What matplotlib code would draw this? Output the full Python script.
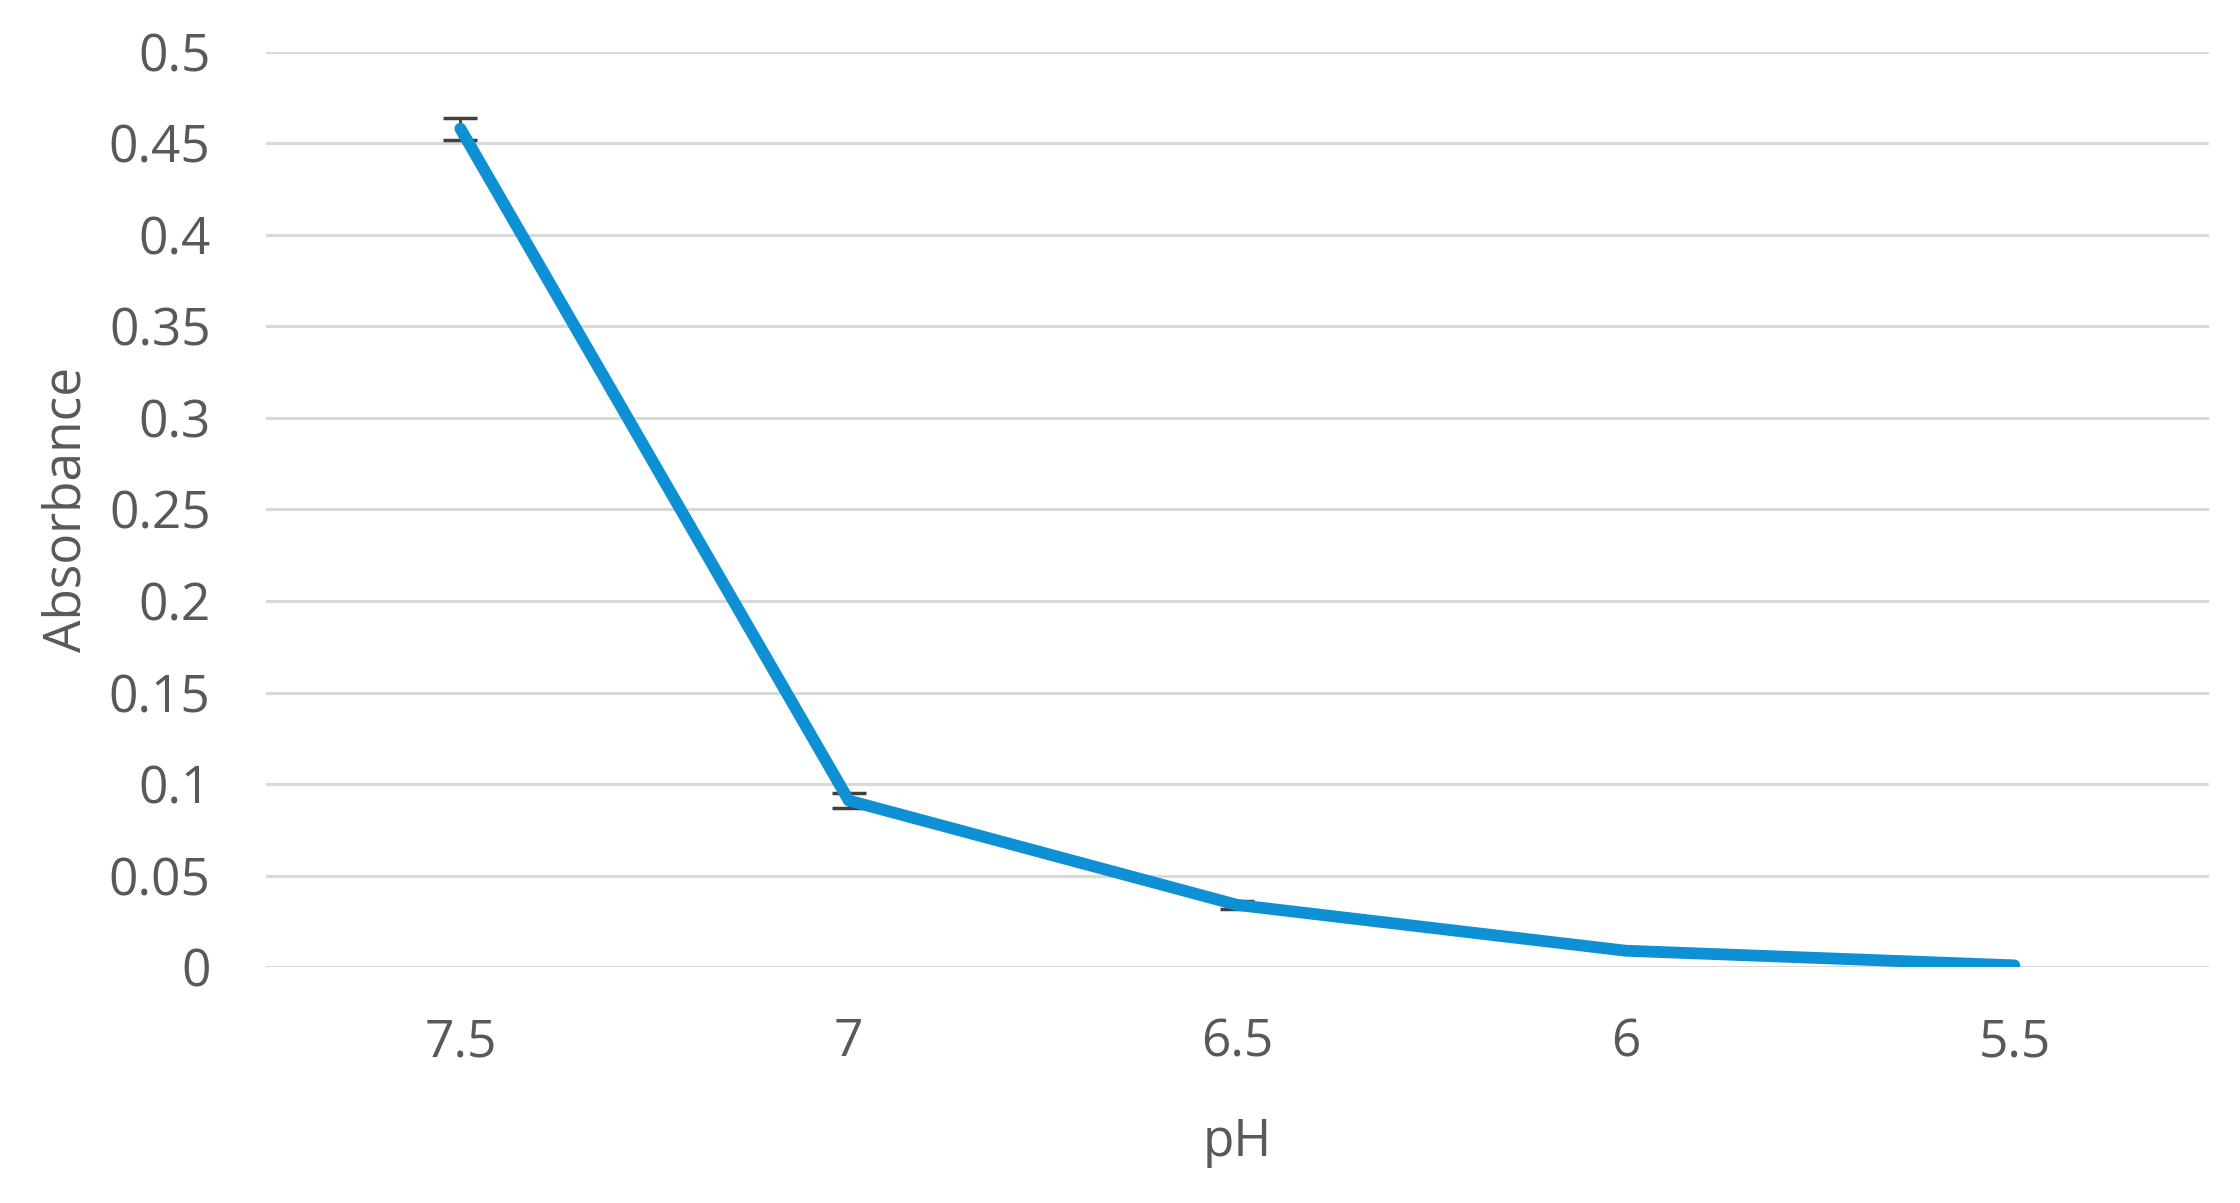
import matplotlib
matplotlib.use("Agg")
import matplotlib.pyplot as plt

categories = ["7.5", "7", "6.5", "6", "5.5"]
absorbance = [0.458, 0.091, 0.034, 0.009, 0.001]
errors = [0.006, 0.004, 0.002, 0.0, 0.0]
yticks = [0, 0.05, 0.1, 0.15, 0.2, 0.25, 0.3, 0.35, 0.4, 0.45, 0.5]
ytick_labels = ["0", "0.05", "0.1", "0.15", "0.2", "0.25", "0.3", "0.35", "0.4", "0.45", "0.5"]

plt.rcParams['font.family'] = ['Open Sans', 'DejaVu Sans']
text_color = '#595959'

fig = plt.figure(figsize=(22.4, 12.03), dpi=100)
ax = fig.add_axes([0.1188, 0.196, 0.8672, 0.761])

x = list(range(len(categories)))
ax.errorbar(x, absorbance, yerr=errors, errorevery=[e > 0 for e in errors],
            color='#0E90D4', linewidth=8.5,
            solid_capstyle='round', solid_joinstyle='round',
            ecolor='#404040', elinewidth=2, capsize=12, capthick=2.5, zorder=3)

ax.set_xlim(-0.5, len(categories) - 0.5)
ax.set_ylim(0, 0.5)
ax.set_yticks(yticks)
ax.set_yticklabels(ytick_labels)
ax.set_xticks(x)
ax.set_xticklabels(categories)
ax.yaxis.grid(True, color='#D9D9D9', linewidth=2.2)
ax.set_axisbelow(True)
for s in ax.spines.values():
    s.set_visible(False)
ax.tick_params(axis='both', length=0, labelsize=37, colors=text_color)
ax.tick_params(axis='y', pad=40)
ax.tick_params(axis='x', pad=36)
ax.set_xlabel('pH', fontsize=37, color=text_color, labelpad=35)
ax.set_ylabel('Absorbance', fontsize=37, color=text_color, labelpad=12)

fig.savefig('out.png', dpi=100, facecolor='white')
